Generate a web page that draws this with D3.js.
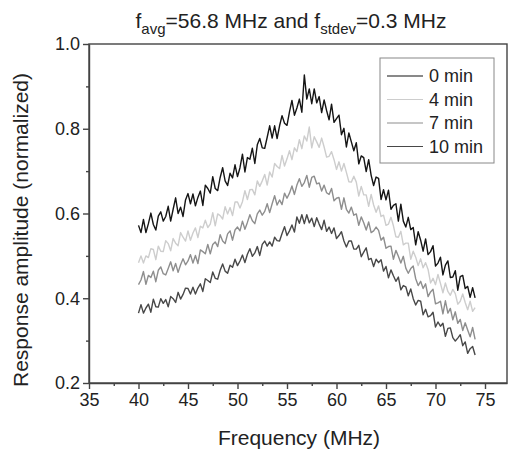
<!DOCTYPE html>
<html>
<head>
<meta charset="utf-8">
<script src="https://cdn.jsdelivr.net/npm/d3@7"></script>
<style>
  body { margin: 0; background: #fff; }
  svg { font-family: "Liberation Sans", Arial, sans-serif; }
  .axis path, .axis line { stroke: #444; }
  .axis text { font-size: 18px; fill: #222; }
</style>
</head>
<body>
<div id="chart"></div>
<script>
// frequency sampling (MHz) and the four normalized response traces
var freqStart = 40, freqEnd = 74, freqStep = 0.25;

var series0 = [0.572,0.555,0.586,0.555,0.576,0.601,0.574,0.561,0.594,0.604,0.582,0.593,0.617,0.582,0.610,0.637,0.600,0.615,0.593,0.632,
  0.647,0.623,0.646,0.618,0.638,0.653,0.619,0.667,0.659,0.648,0.687,0.659,0.654,0.685,0.708,0.677,0.666,0.695,0.684,0.715,
  0.687,0.708,0.740,0.698,0.732,0.728,0.754,0.718,0.762,0.777,0.755,0.754,0.780,0.807,0.778,0.807,0.777,0.807,0.831,0.813,
  0.808,0.840,0.867,0.832,0.849,0.870,0.839,0.927,0.870,0.894,0.859,0.894,0.861,0.876,0.838,0.868,0.843,0.821,0.858,0.815,
  0.824,0.832,0.786,0.801,0.757,0.790,0.769,0.748,0.767,0.717,0.736,0.732,0.699,0.727,0.690,0.666,0.686,0.683,0.633,0.656,
  0.632,0.655,0.610,0.619,0.623,0.582,0.622,0.582,0.568,0.591,0.562,0.567,0.526,0.557,0.537,0.511,0.540,0.503,0.510,0.524,
  0.476,0.483,0.497,0.455,0.478,0.488,0.449,0.450,0.465,0.419,0.451,0.454,0.423,0.428,0.402,0.425,0.401];

var series4 = [0.484,0.500,0.483,0.500,0.496,0.517,0.515,0.491,0.523,0.511,0.510,0.536,0.529,0.512,0.541,0.530,0.524,0.555,0.544,0.535,
  0.559,0.537,0.554,0.566,0.543,0.570,0.566,0.584,0.567,0.575,0.602,0.571,0.599,0.595,0.587,0.616,0.599,0.614,0.595,0.627,
  0.627,0.613,0.628,0.654,0.633,0.656,0.657,0.644,0.677,0.664,0.677,0.692,0.667,0.698,0.686,0.718,0.711,0.706,0.737,0.712,
  0.729,0.748,0.727,0.755,0.746,0.774,0.753,0.783,0.771,0.804,0.755,0.781,0.769,0.756,0.778,0.757,0.733,0.735,0.746,0.727,
  0.704,0.722,0.700,0.718,0.697,0.675,0.674,0.688,0.674,0.641,0.664,0.644,0.644,0.617,0.645,0.620,0.603,0.618,0.593,0.596,
  0.572,0.575,0.591,0.571,0.545,0.544,0.558,0.526,0.530,0.530,0.492,0.511,0.497,0.477,0.493,0.472,0.484,0.468,0.436,0.447,
  0.432,0.456,0.435,0.413,0.436,0.416,0.407,0.421,0.411,0.386,0.393,0.410,0.390,0.373,0.393,0.369,0.378];

var series7 = [0.432,0.443,0.463,0.433,0.454,0.449,0.464,0.439,0.466,0.474,0.458,0.455,0.470,0.486,0.465,0.482,0.461,0.479,0.493,0.479,
  0.488,0.503,0.483,0.501,0.482,0.514,0.510,0.505,0.527,0.505,0.527,0.533,0.522,0.550,0.535,0.529,0.552,0.559,0.537,0.561,
  0.568,0.559,0.582,0.563,0.579,0.597,0.583,0.576,0.599,0.608,0.596,0.605,0.623,0.602,0.623,0.642,0.620,0.632,0.621,0.648,
  0.636,0.648,0.665,0.645,0.667,0.682,0.664,0.673,0.690,0.662,0.685,0.688,0.670,0.672,0.653,0.667,0.649,0.645,0.659,0.630,
  0.636,0.638,0.610,0.637,0.610,0.601,0.615,0.596,0.599,0.572,0.592,0.578,0.561,0.580,0.555,0.559,0.568,0.560,0.537,0.544,
  0.518,0.522,0.523,0.492,0.513,0.499,0.483,0.499,0.471,0.459,0.470,0.476,0.446,0.430,0.440,0.423,0.434,0.404,0.415,0.421,
  0.387,0.389,0.393,0.363,0.394,0.365,0.376,0.349,0.368,0.341,0.350,0.324,0.342,0.325,0.309,0.331,0.303];

var series10 = [0.365,0.385,0.365,0.377,0.386,0.367,0.398,0.380,0.379,0.399,0.388,0.397,0.380,0.404,0.399,0.390,0.414,0.398,0.409,0.424,
  0.423,0.410,0.426,0.410,0.424,0.434,0.416,0.446,0.442,0.437,0.462,0.447,0.445,0.466,0.481,0.464,0.459,0.478,0.473,0.492,
  0.477,0.488,0.502,0.484,0.504,0.517,0.499,0.507,0.522,0.501,0.527,0.535,0.523,0.533,0.523,0.544,0.536,0.535,0.553,0.569,
  0.548,0.559,0.573,0.556,0.592,0.577,0.597,0.576,0.597,0.578,0.589,0.569,0.590,0.575,0.562,0.584,0.558,0.568,0.553,0.566,
  0.541,0.548,0.557,0.535,0.521,0.535,0.535,0.516,0.516,0.525,0.498,0.509,0.519,0.491,0.494,0.475,0.492,0.484,0.491,0.464,
  0.475,0.448,0.467,0.453,0.440,0.450,0.420,0.430,0.427,0.406,0.422,0.399,0.384,0.395,0.393,0.361,0.374,0.356,0.359,0.367,
  0.332,0.344,0.334,0.341,0.310,0.329,0.330,0.307,0.299,0.306,0.314,0.288,0.297,0.270,0.281,0.286,0.266];

var legendLabels = ["0 min", "4 min", "7 min", "10 min"];
var lineColors = ["#151515", "#cdcdcd", "#8e8e8e", "#484848"];
var xTicks = [35, 40, 45, 50, 55, 60, 65, 70, 75];
var yTicks = [0.2, 0.4, 0.6, 0.8, 1.0];

var svg = d3.select("#chart")
    .append("svg")
    .attr("width", 509)
    .attr("height", 449);

var margin = {top: 44, right: 2, bottom: 66, left: 89},
    width = 509 - margin.left - margin.right,
    height = 449 - margin.top - margin.bottom;

var x = d3.scaleLinear().domain([35, 35 + width / 9.9]).range([0, width]),
    y = d3.scaleLinear().domain([0.2, 1.0]).range([height, 0]);

var freqs = d3.range(freqStart, freqEnd + freqStep / 2, freqStep);

var g = svg.append("g")
    .attr("transform", "translate(" + margin.left + "," + margin.top + ")");

// minor ticks
g.append("g")
    .attr("class", "axis")
    .attr("transform", "translate(0," + height + ")")
    .call(d3.axisBottom(x).tickValues(d3.range(37.5, 78, 5)).tickSize(3).tickFormat(""))
    .select(".domain").remove();

g.append("g")
    .attr("class", "axis")
    .call(d3.axisLeft(y).tickValues([0.3, 0.5, 0.7, 0.9]).tickSize(3).tickFormat(""))
    .select(".domain").remove();

// major axes
g.append("g")
    .attr("class", "axis")
    .attr("transform", "translate(0," + height + ")")
    .call(d3.axisBottom(x).tickValues(xTicks).tickSize(6).tickPadding(4).tickSizeOuter(0));

g.append("g")
    .attr("class", "axis")
    .call(d3.axisLeft(y).tickValues(yTicks).tickSize(6).tickPadding(3).tickSizeOuter(0)
        .tickFormat(d3.format(".1f")));

g.selectAll(".axis line, .axis path").attr("stroke-width", 1.4);

// frame top/right
g.append("rect")
    .attr("width", width)
    .attr("height", height)
    .attr("fill", "none")
    .attr("stroke", "#444")
    .attr("stroke-width", 1.4);

var line = d3.line()
    .x(function (d) { return x(d[0]); })
    .y(function (d) { return y(d[1]); });

var allSeries = [series0, series4, series7, series10];

allSeries.forEach(function (s, k) {
    g.append("path")
        .datum(s.map(function (v, i) { return [freqs[i], v]; }))
        .attr("fill", "none")
        .attr("stroke", lineColors[k])
        .attr("stroke-width", 1.4)
        .attr("stroke-linejoin", "round")
        .attr("d", line);
});

// legend
var legend = svg.append("g").attr("transform", "translate(380,58)");

legend.append("rect")
    .attr("width", 114)
    .attr("height", 105)
    .attr("fill", "#fff")
    .attr("stroke", "#888")
    .attr("stroke-width", 1);

legendLabels.forEach(function (lab, k) {
    var yy = 18 + k * 23.5;
    legend.append("line")
        .attr("x1", 7).attr("x2", 43)
        .attr("y1", yy).attr("y2", yy)
        .attr("stroke", lineColors[k])
        .attr("stroke-width", 1.2);
    legend.append("text")
        .attr("x", 49)
        .attr("y", yy)
        .attr("dy", "0.35em")
        .attr("font-size", 18)
        .attr("fill", "#222")
        .text(lab);
});

// title with subscripts
var title = svg.append("text")
    .attr("x", 291)
    .attr("y", 28)
    .attr("text-anchor", "middle")
    .attr("font-size", 21)
    .attr("fill", "#222");
title.append("tspan").text("f");
title.append("tspan").attr("font-size", 15).attr("dy", 6).text("avg");
title.append("tspan").attr("dy", -6).text("=56.8 MHz and f");
title.append("tspan").attr("font-size", 15).attr("dy", 6).text("stdev");
title.append("tspan").attr("dy", -6).text("=0.3 MHz");

svg.append("text")
    .attr("x", 299)
    .attr("y", 445)
    .attr("text-anchor", "middle")
    .attr("font-size", 21)
    .attr("fill", "#222")
    .text("Frequency (MHz)");

svg.append("text")
    .attr("transform", "translate(28,230) rotate(-90)")
    .attr("text-anchor", "middle")
    .attr("font-size", 21)
    .attr("fill", "#222")
    .text("Response amplitude (normalized)");
</script>
</body>
</html>
